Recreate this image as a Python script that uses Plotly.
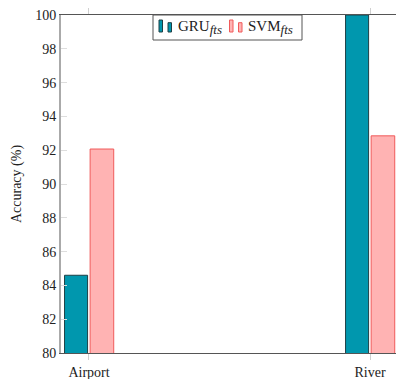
import plotly.graph_objects as go

categories = ["Airport", "River"]
gru_values = [84.6, 100.0]
svm_values = [92.07, 92.85]
y_ticks = [80, 82, 84, 86, 88, 90, 92, 94, 96, 98, 100]
series_names = ["GRU<sub><span style='font-size:13px'><i>fts</i></span></sub>",
                "SVM<sub><span style='font-size:13px'><i>fts</i></span></sub>"]

gru_fill, gru_edge = "#0097AE", "#1d3f45"
svm_fill, svm_edge = "#FFB3B3", "#F05A5A"

fig = go.Figure()
fig.add_trace(go.Bar(
    x=categories, y=gru_values, name=series_names[0],
    marker=dict(color=gru_fill, line=dict(color=gru_edge, width=1)),
    width=0.082, offset=-0.087, showlegend=False,
))
fig.add_trace(go.Bar(
    x=categories, y=svm_values, name=series_names[1],
    marker=dict(color=svm_fill, line=dict(color=svm_edge, width=1)),
    width=0.084, offset=0.004, showlegend=False,
))

# pgfplots-style legend drawn in pixel terms of the plot area (61..396 x 15..353)
L, R, T, B = 61.0, 396.0, 15.0, 353.0
def px(xp):
    return (xp - L) / (R - L)
def py(yp):
    return (B - yp) / (B - T)

shapes = [
    dict(type="rect", xref="paper", yref="paper", x0=px(153), x1=px(302), y0=py(40), y1=py(15),
         line=dict(color="#555", width=1), fillcolor="white", layer="above"),
]
icon_specs = [
    (159, 20, gru_fill, gru_edge), (168, 22.7, gru_fill, gru_edge),
    (229.5, 20, svm_fill, svm_edge), (238.5, 22.7, svm_fill, svm_edge),
]
for x0, ytop, fc, lc in icon_specs:
    shapes.append(dict(type="rect", xref="paper", yref="paper", x0=px(x0), x1=px(x0 + 3.5),
                       y0=py(32), y1=py(ytop), line=dict(color=lc, width=1), fillcolor=fc,
                       layer="above"))

font = "Liberation Serif, DejaVu Serif, serif"
annotations = [
    dict(text=series_names[0], xref="paper", yref="paper", x=px(175.5), y=py(27.5),
         xanchor="left", yanchor="middle", showarrow=False,
         font=dict(family=font, size=15, color="#222")),
    dict(text=series_names[1], xref="paper", yref="paper", x=px(245.5), y=py(27.5),
         xanchor="left", yanchor="middle", showarrow=False,
         font=dict(family=font, size=15, color="#222")),
]

fig.update_layout(
    width=396, height=379,
    margin=dict(l=61, r=0, t=15, b=26, autoexpand=False),
    barmode="overlay",
    plot_bgcolor="white", paper_bgcolor="white",
    font=dict(family=font, size=14, color="#222"),
    showlegend=False,
    shapes=shapes,
    annotations=annotations,
    xaxis=dict(
        type="category", range=[-0.0996, 1.0925],
        showline=True, linecolor="#555", linewidth=1, mirror="ticks",
        ticks="outside", ticklen=6, tickcolor="#d0d0d0",
        showgrid=False, zeroline=False,
        tickfont=dict(family=font, size=14, color="#222"),
    ),
    yaxis=dict(
        range=[80, 100], tickvals=y_ticks,
        title=dict(text="Accuracy (%)", font=dict(family=font, size=14, color="#222"), standoff=10),
        showline=True, linecolor="#aaa", linewidth=2,
        ticks="inside", ticklen=6, tickcolor="#ddd",
        showgrid=False, zeroline=False,
        tickfont=dict(family=font, size=14, color="#222"),
    ),
    yaxis2=dict(
        overlaying="y", side="right", range=[80, 100], tickvals=y_ticks,
        showticklabels=False, showline=False, ticks="inside", ticklen=6,
        tickcolor="#ddd", showgrid=False, zeroline=False,
    ),
)
fig.write_html("out.html", post_script="document.body.style.margin='0';",
               config={"displayModeBar": False})
